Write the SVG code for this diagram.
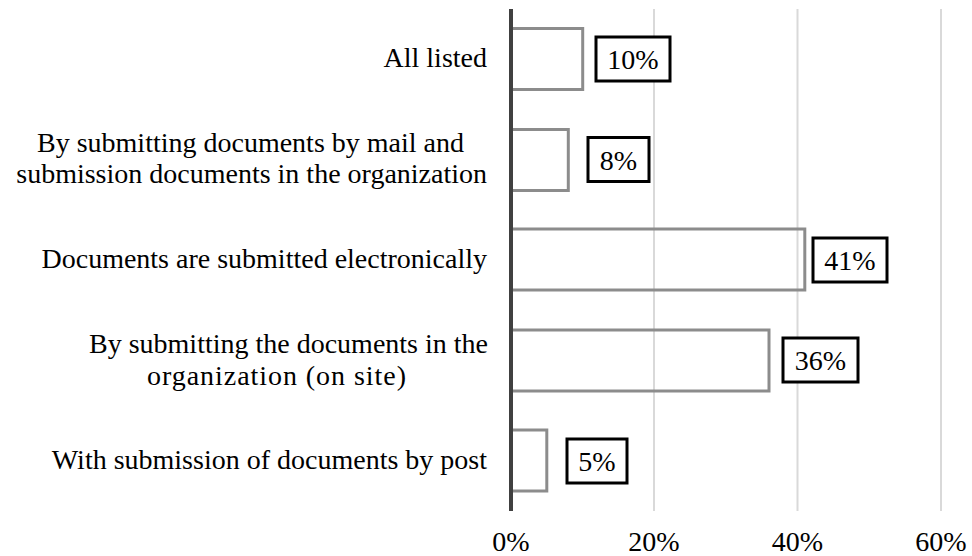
<svg xmlns="http://www.w3.org/2000/svg" width="972" height="556" viewBox="0 0 972 556">
<style>
text{font-family:"Liberation Serif","Times New Roman",serif;font-size:28px;fill:#000}
.cat{text-anchor:end}
.ax{text-anchor:middle}
.val{text-anchor:middle}
.grid{stroke:#d9d9d9;stroke-width:2}
.bar{fill:none;stroke:#8c8c8c;stroke-width:3}
.box{fill:#fff;stroke:#000;stroke-width:3}
</style>
<rect width="972" height="556" fill="#fff"/>
<g id="gridlines">
<line class="grid" x1="654" y1="9" x2="654" y2="511"/>
<line class="grid" x1="797.5" y1="9" x2="797.5" y2="511"/>
<line class="grid" x1="941" y1="9" x2="941" y2="511"/>
</g>
<g id="bars">
<rect id="bar1" class="bar" x="511" y="28.5" width="71.7" height="61"/>
<rect id="bar2" class="bar" x="511" y="129.5" width="57.3" height="61"/>
<rect id="bar3" class="bar" x="511" y="229" width="293.8" height="61"/>
<rect id="bar4" class="bar" x="511" y="330" width="258" height="61"/>
<rect id="bar5" class="bar" x="511" y="430" width="35.8" height="61"/>
</g>
<g id="axis">
<line x1="511" y1="9" x2="511" y2="511" stroke="#404040" stroke-width="4"/>
</g>
<g id="categories">
<text class="cat" x="487" y="67">All listed</text>
<text class="cat" x="464" y="152">By submitting documents by mail and</text>
<text class="cat" x="487" y="183">submission documents in the organization</text>
<text class="cat" x="487" y="268">Documents are submitted electronically</text>
<text class="cat" x="488" y="353">By submitting the documents in the</text>
<text x="147" y="385" textLength="259" lengthAdjust="spacing">organization (on site)</text>
<text class="cat" x="487" y="469">With submission of documents by post</text>
</g>
<g id="labels">
<g id="lab1"><rect class="box" x="596" y="37" width="74" height="44"/><text class="val" x="633" y="69">10%</text></g>
<g id="lab2"><rect class="box" x="588" y="137.5" width="61" height="44"/><text class="val" x="618.5" y="169.5">8%</text></g>
<g id="lab3"><rect class="box" x="813" y="238" width="74" height="44"/><text class="val" x="850" y="270">41%</text></g>
<g id="lab4"><rect class="box" x="783" y="338" width="75" height="44"/><text class="val" x="820.5" y="370">36%</text></g>
<g id="lab5"><rect class="box" x="567" y="439" width="60" height="44"/><text class="val" x="597" y="471">5%</text></g>
</g>
<g id="xaxis">
<text class="ax" x="511" y="551">0%</text>
<text class="ax" x="654" y="551">20%</text>
<text class="ax" x="797.5" y="551">40%</text>
<text class="ax" x="941" y="551">60%</text>
</g>
</svg>
